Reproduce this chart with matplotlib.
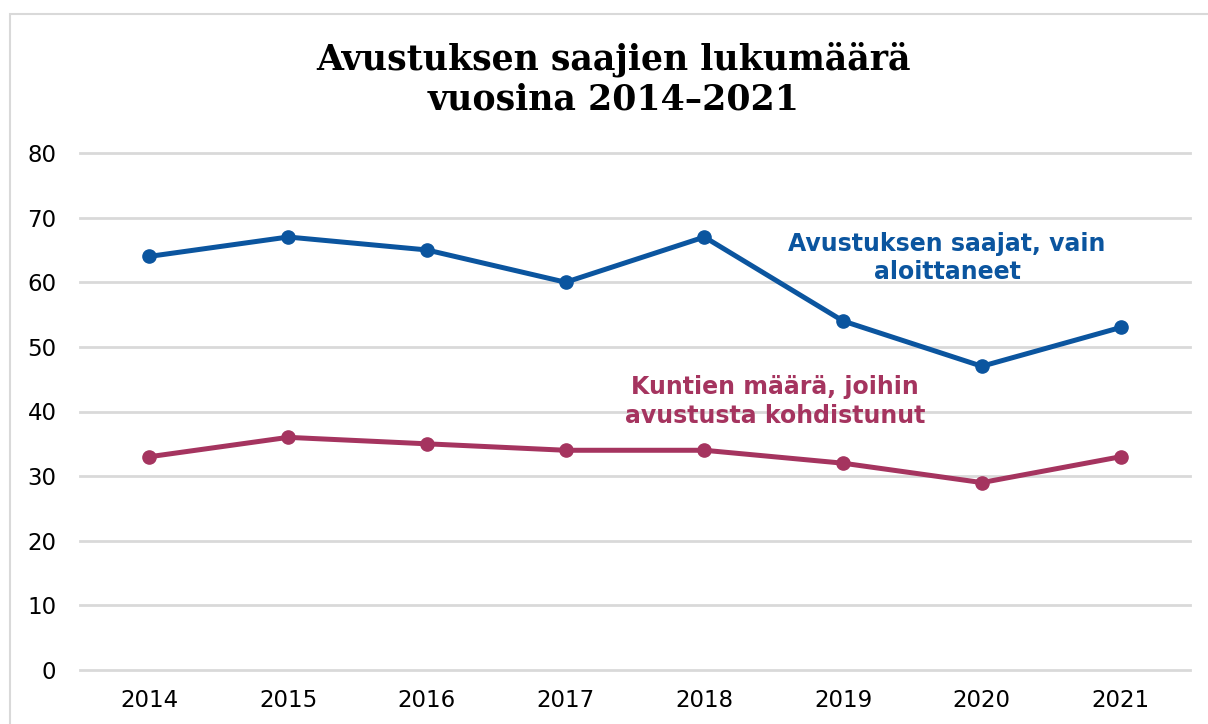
import matplotlib
matplotlib.use("Agg")
import matplotlib.pyplot as plt
from matplotlib.patches import Rectangle

years = ["2014", "2015", "2016", "2017", "2018", "2019", "2020", "2021"]
saajat = [64, 67, 65, 60, 67, 54, 47, 53]
kunnat = [33, 36, 35, 34, 34, 32, 29, 33]
yticks = [0, 10, 20, 30, 40, 50, 60, 70, 80]

blue = "#0B559F"
red = "#A5345F"

fig = plt.figure(figsize=(12.08, 7.24), dpi=100)
fig.patches.append(Rectangle((10/1208, -0.05), 1.2, 1 - 14/724 + 0.05, transform=fig.transFigure,
                             fill=False, edgecolor="#d9d9d9", linewidth=1.5))
ax = fig.add_axes([80/1208, 54/724, 1110/1208, 517/724])
x = list(range(len(years)))
ax.plot(x, saajat, color=blue, lw=3.6, marker="o", ms=9.5, zorder=3)
ax.plot(x, kunnat, color=red, lw=3.6, marker="o", ms=9.5, zorder=3)
ax.set_xlim(-0.5, len(years) - 0.5)
ax.set_ylim(0, 80)
ax.set_yticks(yticks)
ax.set_xticks(x)
ax.set_xticklabels(years)
ax.yaxis.grid(True, color="#d9d9d9", lw=2)
for gl in ax.get_ygridlines():
    gl.set_clip_on(False)
ax.set_axisbelow(True)
for s in ax.spines.values():
    s.set_visible(False)
ax.tick_params(axis="both", length=0, labelsize=16.5, colors="#000000")
ax.tick_params(axis="y", pad=17)
ax.tick_params(axis="x", pad=14)

fig.text(614/1208, 1 - 79/724, "Avustuksen saajien lukumäärä\nvuosina 2014–2021", ha="center", va="center",
         fontsize=25, fontweight="bold", family="DejaVu Serif", linespacing=1.2)

ax.text(5.75, 63.75, "Avustuksen saajat, vain\naloittaneet", color=blue, ha="center", va="center",
        fontsize=17, fontweight="bold", linespacing=1.25)
ax.text(4.51, 41.5, "Kuntien määrä, joihin\navustusta kohdistunut", color=red, ha="center", va="center",
        fontsize=17, fontweight="bold", linespacing=1.25)

fig.savefig("out.png", dpi=100)
